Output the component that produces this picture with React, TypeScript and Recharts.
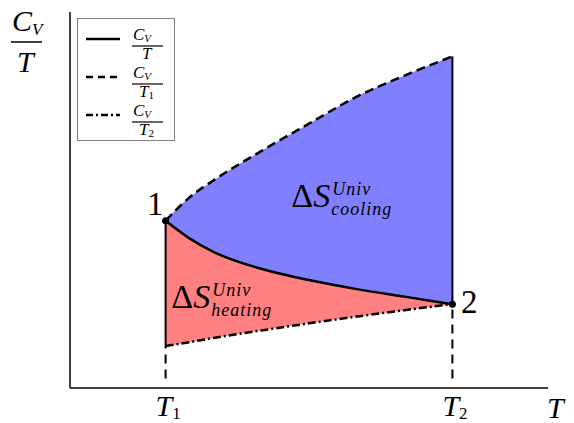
import {
  Area,
  ComposedChart,
  Customized,
  Legend,
  Line,
  ReferenceDot,
  ReferenceLine,
  XAxis,
  YAxis,
} from 'recharts';

// temperatures from T1 to T2 (x axis runs 0..10)
const temps = [2, 2.5, 3, 4, 5, 6, 7, 8];
// C_V / T  (solid)
const cvOverT = [4.45, 3.98, 3.62, 3.17, 2.87, 2.63, 2.43, 2.23];
// C_V / T1 (dashed)
const cvOverT1 = [4.45, 5.07, 5.52, 6.3, 7.03, 7.75, 8.31, 8.82];
// C_V / T2 (dash-dot)
const cvOverT2 = [1.12, 1.22, 1.33, 1.53, 1.72, 1.9, 2.07, 2.23];
const tickLabels = ['1', '2'];

const serif = '"Liberation Serif", "DejaVu Serif", serif';

const chartData = temps.map((t, i) => ({
  t,
  solid: cvOverT[i],
  dashed: cvOverT1[i],
  dashDot: cvOverT2[i],
  cooling: [cvOverT[i], cvOverT1[i]],
  heating: [cvOverT2[i], cvOverT[i]],
}));

const T1 = temps[0];
const T2 = temps[temps.length - 1];
const last = temps.length - 1;

const TTick = (props: any) => {
  const { x, y, payload } = props;
  const idx = payload.value === T1 ? 0 : 1;
  return (
    <text x={x - 10} y={y + 28} fontFamily={serif} fontStyle="italic" fontSize={30} fill="#000">
      T
      <tspan fontSize={17} fontStyle="normal" dy={3}>{tickLabels[idx]}</tspan>
    </text>
  );
};

const legendItems = [
  { dash: undefined, sub: '' },
  { dash: '7 5', sub: '1' },
  { dash: '7 3 2 3', sub: '2' },
];

const LegendBox = () => (
  <div style={{ width: 98, height: 123, border: '1px solid #808080', boxSizing: 'border-box', background: '#fff' }}>
    <svg width={96} height={121} style={{ display: 'block' }}>
      {legendItems.map((it, i) => {
        const ly = 20 + i * 38;
        const bar = ly + 7;
        return (
          <g key={i}>
            <line x1={8} x2={42} y1={ly} y2={ly} stroke="#000" strokeWidth={2.5} strokeDasharray={it.dash} />
            <text x={55} y={bar - 6} fontFamily={serif} fontStyle="italic" fontSize={17} fill="#000">
              C<tspan fontSize={11} dy={2}>V</tspan>
            </text>
            <line x1={54} x2={85} y1={bar} y2={bar} stroke="#000" strokeWidth={1.2} />
            <text x={it.sub ? 61 : 64} y={bar + 13} fontFamily={serif} fontStyle="italic" fontSize={17} fill="#000">
              T{it.sub ? <tspan fontSize={11} fontStyle="normal" dy={2}>{it.sub}</tspan> : null}
            </text>
          </g>
        );
      })}
    </svg>
  </div>
);

const Annotations = () => (
  <g fontFamily={serif} fill="#000">
    {/* y axis label C_V / T */}
    <text x={12} y={31} fontSize={30} fontStyle="italic">
      C<tspan fontSize={17} dy={4}>V</tspan>
    </text>
    <line x1={11} x2={42} y1={42} y2={42} stroke="#000" strokeWidth={1.5} />
    <text x={17} y={72} fontSize={30} fontStyle="italic">T</text>
    {/* x axis label */}
    <text x={547} y={418} fontSize={30} fontStyle="italic">T</text>
    {/* state labels */}
    <text x={147} y={215} fontSize={33}>1</text>
    <text x={461} y={313} fontSize={33}>2</text>
  </g>
);

const EntropyLabel = (props: any) => {
  const { viewBox, sub } = props;
  const x = viewBox.x;
  const y = viewBox.y;
  return (
    <g fontFamily={serif} fill="#000">
      <text x={x} y={y} fontSize={34}>
        Δ<tspan fontStyle="italic">S</tspan>
      </text>
      <text x={x + 41} y={y - 12} fontSize={18} fontStyle="italic" letterSpacing={1}>Univ</text>
      <text x={x + 40} y={y + 8} fontSize={18} fontStyle="italic" letterSpacing={1}>{sub}</text>
    </g>
  );
};

export default function App() {
  return (
    <div style={{ position: 'absolute', left: 0, top: 0, width: 574, height: 423, background: '#fff' }}>
      <ComposedChart width={574} height={423} data={chartData} margin={{ top: 12, right: 26, bottom: 34, left: 69 }}>
        <XAxis
          dataKey="t"
          type="number"
          domain={[0, 10]}
          ticks={[T1, T2]}
          tickLine={false}
          tickSize={0}
          tickMargin={0}
          height={1}
          tick={<TTick />}
          axisLine={{ stroke: '#000', strokeWidth: 1.5 }}
        />
        <YAxis
          type="number"
          domain={[0, 10]}
          width={1}
          tick={false}
          tickLine={false}
          axisLine={{ stroke: '#000', strokeWidth: 1.5 }}
        />
        <Legend
          layout="horizontal"
          verticalAlign="middle"
          align="center"
          content={<LegendBox />}
          wrapperStyle={{ left: 77, top: 18, width: 98, height: 123 }}
        />
        <Area dataKey="cooling" type="monotone" fill="#8080ff" fillOpacity={1} stroke="none" isAnimationActive={false} legendType="none" />
        <Area dataKey="heating" type="monotone" fill="#ff8080" fillOpacity={1} stroke="none" isAnimationActive={false} legendType="none" />
        <ReferenceLine segment={[{ x: T1, y: 0.25 }, { x: T1, y: cvOverT2[0] }]} stroke="#000" strokeWidth={2} strokeDasharray="9 6" />
        <ReferenceLine segment={[{ x: T2, y: 0.25 }, { x: T2, y: cvOverT[last] }]} stroke="#000" strokeWidth={2} strokeDasharray="9 6" />
        <ReferenceLine segment={[{ x: T1, y: cvOverT2[0] }, { x: T1, y: cvOverT[0] }]} stroke="#000" strokeWidth={2} />
        <ReferenceLine segment={[{ x: T2, y: cvOverT[last] }, { x: T2, y: cvOverT1[last] }]} stroke="#000" strokeWidth={2} />
        <Line dataKey="dashed" type="monotone" stroke="#000" strokeWidth={2.5} strokeDasharray="9 5" dot={false} isAnimationActive={false} />
        <Line dataKey="dashDot" type="monotone" stroke="#000" strokeWidth={2.5} strokeDasharray="8 3 2 3" dot={false} isAnimationActive={false} />
        <Line dataKey="solid" type="monotone" stroke="#000" strokeWidth={2.5} dot={false} isAnimationActive={false} />
        <ReferenceDot x={T1} y={cvOverT[0]} r={3.5} fill="#000" stroke="none" />
        <ReferenceDot x={T2} y={cvOverT[last]} r={3.5} fill="#000" stroke="none" />
        <ReferenceDot x={4.63} y={4.81} r={0} fill="none" stroke="none" label={<EntropyLabel sub="cooling" />} />
        <ReferenceDot x={2.12} y={2.13} r={0} fill="none" stroke="none" label={<EntropyLabel sub="heating" />} />
        <Customized component={Annotations} />
      </ComposedChart>
    </div>
  );
}
